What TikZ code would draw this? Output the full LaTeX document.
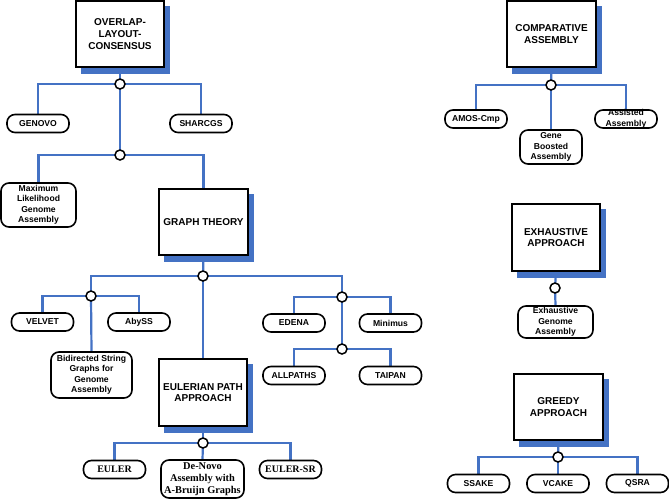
\documentclass[tikz,border=0pt]{standalone}
\usepackage{fontspec}
\setmainfont{Liberation Sans}
\newfontfamily\serifbf{Liberation Serif}
\usetikzlibrary{backgrounds}
\definecolor{lineblue}{RGB}{68,114,196}
\begin{document}
\begin{tikzpicture}[x=1pt,y=-1pt,
  bigbox/.style={draw=black, line width=1.8pt, fill=white, minimum width=88pt, minimum height=66pt, inner sep=0pt, align=center, font=\bfseries\fontsize{10}{11.8}\selectfont},
  pill/.style={draw=black, line width=1.6pt, fill=white, rounded corners=8pt, minimum width=62pt, minimum height=18pt, inner sep=0pt, align=center, font=\bfseries\fontsize{8.6}{10.5}\selectfont},
  serifpill/.style={pill, font=\serifbf\bfseries\fontsize{10}{11.7}\selectfont},
  junc/.style={circle, draw=black, line width=1.5pt, fill=white, minimum size=10pt, inner sep=0pt},
  conn/.style={draw=lineblue, line width=2.2pt},
  shadowfill/.style={fill=lineblue}]
\useasboundingbox (0,0) rectangle (669,499);

% big boxes
\node[bigbox] (olc) at (120,34) {OVERLAP-\\LAYOUT-\\CONSENSUS};
\node[bigbox, minimum width=89pt] (gt) at (203.5,222) {GRAPH THEORY};
\node[bigbox, minimum height=67pt] (eul) at (203,392.5) {EULERIAN PATH\\APPROACH};
\node[bigbox, minimum width=89pt] (comp) at (551.5,34) {COMPARATIVE\\ASSEMBLY};
\node[bigbox, minimum height=67pt] (exh) at (556,237.5) {EXHAUSTIVE\\APPROACH};
\node[bigbox, minimum width=89pt] (greedy) at (558.5,407) {GREEDY\\APPROACH};

% pills
\node[pill] (genovo) at (38,123.5) {GENOVO};
\node[pill] (sharcgs) at (201,123.5) {SHARCGS};
\node[pill, minimum width=75pt, minimum height=44pt] (maxlik) at (38.5,205) {Maximum\\Likelihood\\Genome\\Assembly};
\node[pill] (velvet) at (42.5,322) {VELVET};
\node[pill] (abyss) at (139,322) {AbySS};
\node[pill, minimum width=81pt, minimum height=46pt] (bidir) at (91.5,375) {Bidirected String\\Graphs for\\Genome\\Assembly};
\node[pill] (edena) at (294,323) {EDENA};
\node[pill] (minimus) at (390.5,323) {Minimus};
\node[pill] (allpaths) at (294,375.5) {ALLPATHS};
\node[pill] (taipan) at (390.5,375.5) {TAIPAN};
\node[serifpill] (euler) at (114.5,469.5) {EULER};
\node[serifpill, minimum width=83pt, minimum height=38pt, font=\serifbf\bfseries\fontsize{10.4}{11.7}\selectfont] (denovo) at (202.5,479) {De-Novo\\Assembly with\\A-Bruijn Graphs};
\node[serifpill] (eulersr) at (290.5,469.5) {EULER-SR};
\node[pill] (amos) at (476,119) {AMOS-Cmp};
\node[pill] (assisted) at (626,119) {};
\node[font=\bfseries\fontsize{8.6}{10.8}\selectfont, align=center, inner sep=0pt] (assistedtext) at (626,119) {Assisted\\Assembly};
\node[pill, minimum height=34pt] (gene) at (551,147) {Gene\\Boosted\\Assembly};
\node[pill, minimum width=75pt, minimum height=32pt] (exhgen) at (555.5,322) {Exhaustive\\Genome\\Assembly};
\node[pill] (ssake) at (478.5,483.5) {SSAKE};
\node[pill] (vcake) at (558,483.5) {VCAKE};
\node[pill] (qsra) at (637.5,483.5) {QSRA};

% junctions
\node[junc] (j1) at (120,84) {};
\node[junc] (j2) at (120,155) {};
\node[junc] (j3) at (203,276) {};
\node[junc] (j4) at (91,296) {};
\node[junc] (j5) at (342,297) {};
\node[junc] (j6) at (342,349) {};
\node[junc] (j7) at (203,443) {};
\node[junc] (jc) at (551,85) {};
\node[junc] (je) at (555,288) {};
\node[junc] (jg) at (558,457) {};

\begin{pgfonlayer}{background}
  \foreach \b in {olc,gt,eul,comp,exh,greedy}{
    \fill[shadowfill] ([shift={(5.5,6)}]\b.south west) rectangle ([shift={(5.5,6)}]\b.north east);
  }
  % OLC tree
  \draw[conn] (olc.south) -- (j1.center);
  \draw[conn] (j1.center) -| (genovo.north);
  \draw[conn] (j1.center) -| (sharcgs.north);
  \draw[conn] (j1.center) -- (j2.center);
  \draw[conn] (j2.center) -| (maxlik.north);
  \draw[conn] (j2.center) -| (gt.north);
  \draw[conn] (gt.south) -- (j3.center);
  \draw[conn] (j3.center) -| (j4.center);
  \draw[conn] (j3.center) -| (j5.center);
  \draw[conn] (j3.center) -- (eul.north);
  \draw[conn] (j4.center) -| (velvet.north);
  \draw[conn] (j4.center) -| (abyss.north);
  \draw[conn] (j4.center) -- (bidir.north);
  \draw[conn] (j5.center) -| (edena.north);
  \draw[conn] (j5.center) -| (minimus.north);
  \draw[conn] (j5.center) -- (j6.center);
  \draw[conn] (j6.center) -| (allpaths.north);
  \draw[conn] (j6.center) -| (taipan.north);
  \draw[conn] (eul.south) -- (j7.center);
  \draw[conn] (j7.center) -| (euler.north);
  \draw[conn] (j7.center) -- (denovo.north);
  \draw[conn] (j7.center) -| (eulersr.north);
  % comparative
  \draw[conn] (comp.south) -- (jc.center);
  \draw[conn] (jc.center) -| (amos.north);
  \draw[conn] (jc.center) -- (gene.north);
  \draw[conn] (jc.center) -| (assisted.north);
  % exhaustive
  \draw[conn] (exh.south) -- (je.center);
  \draw[conn] (je.center) -- (exhgen.north);
  % greedy
  \draw[conn] (greedy.south) -- (jg.center);
  \draw[conn] (jg.center) -| (ssake.north);
  \draw[conn] (jg.center) -- (vcake.north);
  \draw[conn] (jg.center) -| (qsra.north);
\end{pgfonlayer}
\end{tikzpicture}
\end{document}
